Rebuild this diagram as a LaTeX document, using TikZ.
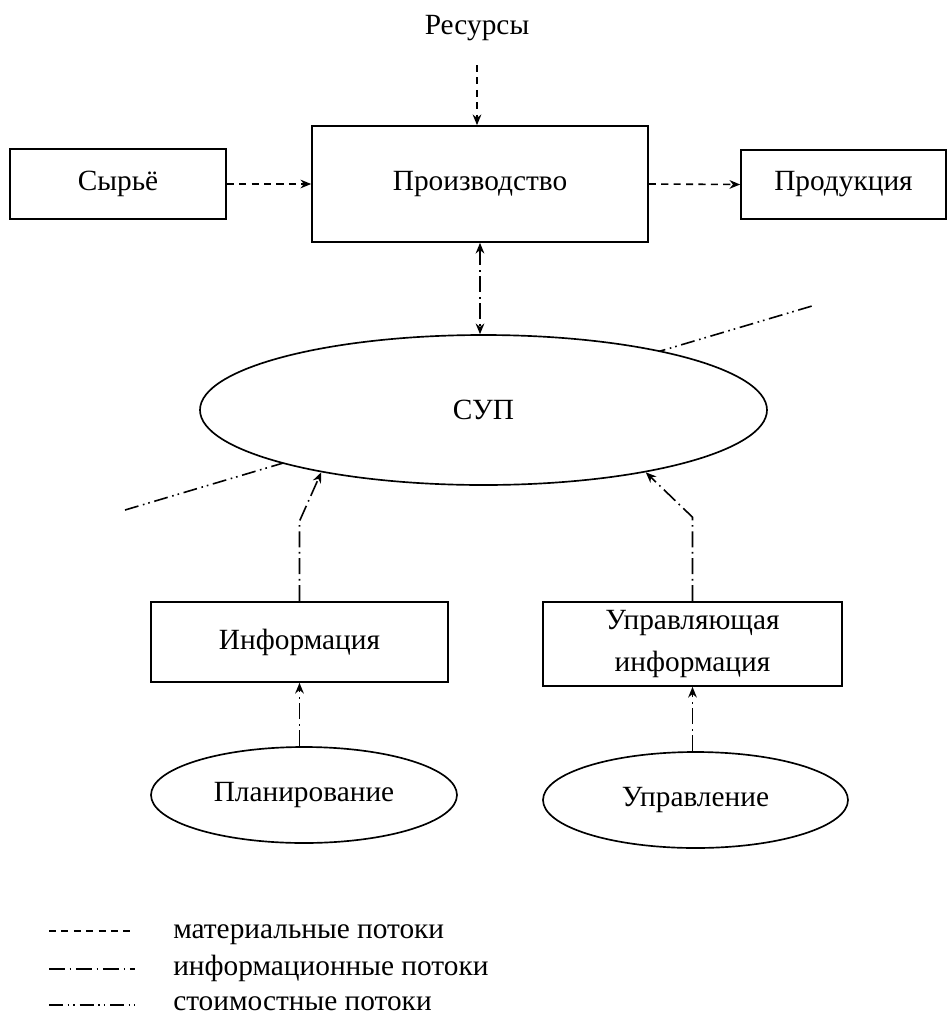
\documentclass[tikz,border=0pt]{standalone}
\usepackage{fontspec}
\setmainfont{Liberation Serif}
\usetikzlibrary{arrows.meta,shapes.geometric}
\tikzset{
  px/.style={x=0.75pt,y=-0.75pt},
  txt/.style={font=\fontsize{22}{31.5}\selectfont, text=black},
  base/.style={txt, draw=black, line width=1.25pt, inner sep=0pt, align=center},
  box/.style={base, rectangle},
  oval/.style={base, ellipse, fill=white},
  tip/.style={-{Stealth[length=8pt,width=6.5pt]}},
  twotips/.style={{Stealth[length=8pt,width=6.5pt]}-{Stealth[length=8pt,width=6.5pt]}},
  matline/.style={line width=1.2pt, dash pattern=on 5.3pt off 4pt},
  infoline/.style={line width=1.2pt, dash pattern=on 12pt off 3.5pt on 1.2pt off 3.5pt},
  costline/.style={line width=1.2pt, dash pattern=on 10.5pt off 3.5pt on 1.2pt off 3pt on 1.2pt off 3.5pt},
}
\begin{document}
\begin{tikzpicture}[px]
\useasboundingbox (0,0) rectangle (947,1018);

% production level
\node[box, minimum width=162pt, minimum height=52.5pt] (raw) at (118,184) {Сырьё};
\node[box, minimum width=252pt, minimum height=87pt] (prod) at (480,184) {Производство};
\node[box, minimum width=153.75pt, minimum height=51.75pt] (out) at (843.5,184.5) {Продукция};
\node[txt] (res) at (477,28) {Ресурсы};
\coordinate (resin) at (477,65);

% cost flow line passing behind the control system
\coordinate (costA) at (125,510);
\coordinate (costB) at (812,306);
\draw[costline] (costA) -- (costB);
\node[oval, minimum width=425.25pt, minimum height=112.5pt] (sup) at (483.5,410) {СУП};

% information sources
\node[box, minimum width=222.75pt, minimum height=60pt] (info) at (299.5,642) {Информация};
\node[box, minimum width=224.25pt, minimum height=63pt] (uinf) at (692.5,644) {Управляющая\\информация};
\node[oval, minimum width=229.5pt, minimum height=72pt] (plan) at (304,795) {Планирование};
\node[oval, minimum width=228.75pt, minimum height=72pt] (upr) at (695.5,800) {Управление};

% material flows
\draw[matline, tip] (resin) -- (resin |- prod.north);
\draw[matline, tip] (raw.east) -- (prod.west);
\draw[matline, tip] (prod.east) -- (out.west);

% information flows
\draw[infoline, twotips] (prod.south) -- (prod.south |- sup.north);
\draw[infoline, tip] (info.north) -- ++(0,-80) -- (sup.201);
\draw[infoline, tip] (uinf.north) -- ++(0,-84) -- (sup.339);
\draw[infoline, tip] (info.south |- plan.north) -- (info.south);
\draw[infoline, tip] (uinf.south |- upr.north) -- (uinf.south);

% legend
\coordinate (l1a) at (49,931);  \coordinate (l1b) at (135,931);
\coordinate (l2a) at (49,969);  \coordinate (l2b) at (135,969);
\coordinate (l3a) at (49,1005); \coordinate (l3b) at (135,1005);
\draw[matline] (l1a) -- (l1b);
\draw[infoline] (l2a) -- (l2b);
\draw[costline] (l3a) -- (l3b);
\node[txt, anchor=base west, inner sep=0pt] (t1) at (173,938) {материальные потоки};
\node[txt, anchor=base west, inner sep=0pt] (t2) at (173,975) {информационные потоки};
\node[txt, anchor=base west, inner sep=0pt] (t3) at (173,1010) {стоимостные потоки};
\end{tikzpicture}
\end{document}
